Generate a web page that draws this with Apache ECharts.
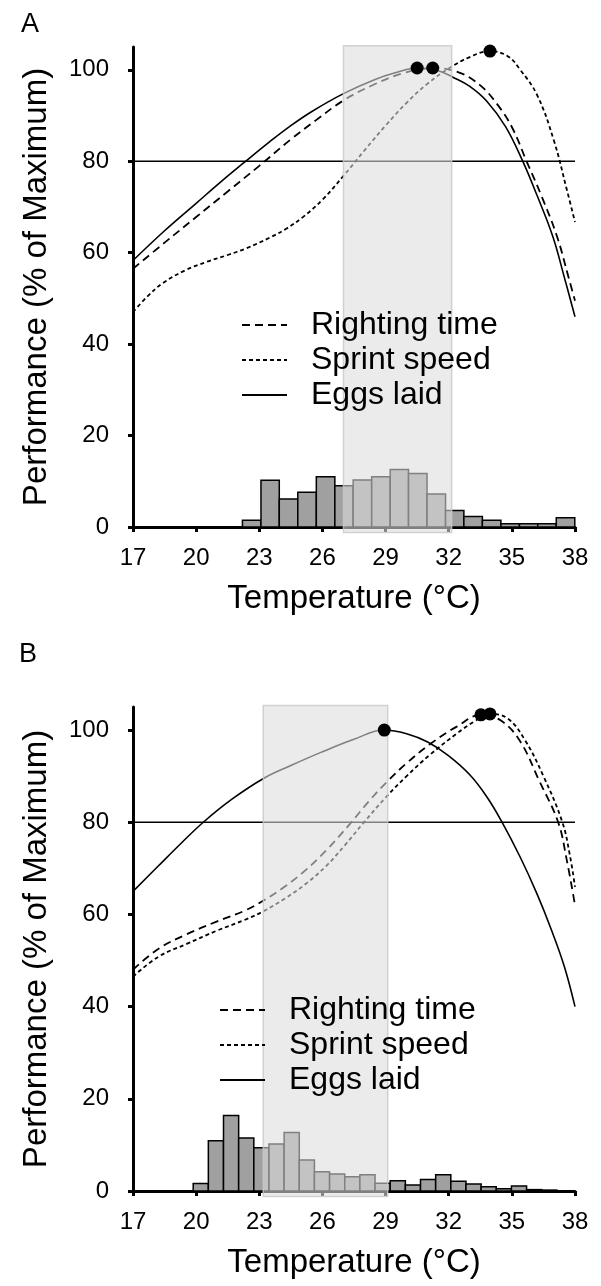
<!DOCTYPE html>
<html>
<head>
<meta charset="utf-8">
<script src="https://cdn.jsdelivr.net/npm/echarts@6/dist/echarts.min.js"></script>
<style>
  html, body { margin: 0; padding: 0; background: #fff; }
  #main { width: 601px; height: 1286px; }
</style>
</head>
<body>
<div id="main"></div>
<script>
// tick labels
const xTicks = [17, 20, 23, 26, 29, 32, 35, 38];
const yTicks = [0, 20, 40, 60, 80, 100];
const seriesNames = ['Righting time', 'Sprint speed', 'Eggs laid'];

// ---- panel A ----
const rightingA = [[17,56.5],[18.5,62.2],[20,67.8],[21.5,73.4],[23,79],[24.5,84.8],[25.7,89],[27,93.3],[28.5,96.9],[29.8,99.2],[31.24,100.4],[32.5,99.4],[33.5,96.6],[34.3,92.5],[35,87.5],[35.7,80],[36.4,72.5],[37.15,63.5],[37.7,54.5],[38,49.5]];
const sprintA = [[17,47],[17.7,50.5],[18.4,53.3],[19.5,56.2],[20.5,58],[21.5,59.5],[22.4,61],[23.5,63.3],[24.3,65.3],[25.1,67.9],[26,71.6],[27,76.8],[28,82.4],[29,87.8],[30,92.8],[31,97],[32,100.3],[33,102.8],[33.96,104.1],[34.8,103],[35.4,100],[36.2,94.5],[37,84.5],[37.6,74],[38,66.7]];
const eggsA = [[17,58.3],[18.5,64.8],[20,70.8],[21.2,75.6],[22.3,79.8],[23.5,84.3],[24.5,87.8],[25.5,90.9],[27,94.8],[28.5,97.9],[29.5,99.4],[30.5,100.4],[31.5,99.8],[32.2,98.4],[33,96.4],[33.8,93.2],[34.7,87.6],[35.5,80.2],[36.2,72.5],[36.95,63.5],[37.5,54.5],[38,46]];
const peaksA = [[30.5,100.4],[31.24,100.4],[33.96,104.1]];
const binEdgesA = [22.20,23.08,23.95,24.83,25.71,26.59,27.46,28.34,29.22,30.09,30.97,31.85,32.72,33.60,34.48,35.36,36.23,37.11,37.99];
const binHeightsA = [1.5,10.2,6.1,7.6,11.0,9.0,10.3,11.0,12.6,11.7,7.2,3.6,2.3,1.5,0.7,0.7,0.7,2.0];
const shadeA = [27.0, 32.14];

// ---- panel B ----
const rightingB = [[17,48],[18.2,52.5],[19.55,55.7],[21,58.5],[22.3,60.8],[23.2,63],[24.2,66],[25.2,69.6],[26.2,74],[27.3,79.6],[28.2,84.5],[29.05,88.7],[30,92.8],[31.1,96.9],[32.4,100.8],[33.53,103.3],[34.5,102],[35.4,97.5],[36.3,89],[37.2,80],[37.6,72],[38,62]];
const sprintB = [[17,46.5],[18.2,50.8],[19.55,53.6],[21,56.5],[22.3,58.8],[23.2,60.7],[24.2,63.4],[25.2,66.6],[26.2,70.6],[27.1,75.2],[27.94,79.8],[29.05,85.6],[30,90],[31.1,94.6],[32.4,99.3],[33.2,101.8],[33.96,103.5],[34.8,102.5],[35.6,98],[36.5,90],[37.4,80],[37.75,73],[38,66]];
const eggsB = [[17,65],[18.2,70.5],[19.3,75.5],[20.34,80],[21.7,85],[23.2,89.5],[24.5,92.3],[25.9,95.1],[27.5,98],[28.94,100],[30,99.2],[31,97.4],[32,94.4],[33,90.3],[33.8,85.6],[34.5,80.3],[35.4,72.4],[36.2,64.4],[36.9,56.4],[37.5,48.6],[38,40]];
const peaksB = [[28.94,100],[33.53,103.3],[33.96,103.5]];
const binEdgesB = [19.86,20.58,21.30,22.02,22.74,23.46,24.18,24.90,25.62,26.34,27.06,27.78,28.50,29.22,29.94,30.66,31.38,32.10,32.82,33.54,34.26,34.98,35.70,36.42,37.14];
const binHeightsB = [1.6,10.9,16.4,11.5,9.4,10.2,12.7,6.7,4.2,3.7,3.1,3.5,1.7,2.2,1.3,2.5,3.5,2.1,1.5,0.9,0.5,1.1,0.3,0.2];
const shadeB = [23.19, 29.1];

const refLine = 80;
const yTop = 105;

var myChart = echarts.init(document.getElementById('main'));

function histItem(params, api) {
  var p0 = api.coord([api.value(0), api.value(2)]);
  var p1 = api.coord([api.value(1), 0]);
  return {
    type: 'rect',
    shape: { x: p0[0], y: p0[1], width: p1[0] - p0[0], height: p1[1] - p0[1] },
    style: { fill: '#a0a0a0', stroke: '#000', lineWidth: 1.5 }
  };
}

function shadeItem(params, api) {
  var p0 = api.coord([api.value(0), api.value(2)]);
  var p1 = api.coord([api.value(1), -1.2]);
  return {
    type: 'rect',
    shape: { x: p0[0], y: p0[1], width: p1[0] - p0[0], height: p1[1] - p0[1] },
    style: { fill: 'rgba(220,220,220,0.58)', stroke: 'rgba(200,200,200,0.8)', lineWidth: 1.5 }
  };
}

function xAxisFor(gi) {
  return {
    type: 'value', gridIndex: gi, min: 17, max: 38, interval: 3,
    name: 'Temperature (°C)', nameLocation: 'middle', nameGap: 55,
    nameTextStyle: { fontSize: 33, color: '#000' },
    axisLine: { show: true, onZero: false, lineStyle: { color: '#000', width: 3 } },
    axisTick: { show: true, length: 5, lineStyle: { color: '#000', width: 3 }, customValues: xTicks },
    axisLabel: { fontSize: 24, color: '#000', margin: 19, customValues: xTicks },
    splitLine: { show: false }
  };
}

function yAxisFor(gi) {
  return {
    type: 'value', gridIndex: gi, min: 0, max: yTop,
    name: 'Performance (% of Maximum)', nameLocation: 'middle', nameGap: 80,
    nameTextStyle: { fontSize: 33, color: '#000' },
    axisLine: { show: true, lineStyle: { color: '#000', width: 3 } },
    axisTick: { show: true, length: 5, lineStyle: { color: '#000', width: 3 }, customValues: yTicks },
    axisLabel: { fontSize: 24, color: '#000', margin: 24, customValues: yTicks },
    splitLine: { show: false }
  };
}

function bins(edges, heights) {
  var out = [];
  for (var i = 0; i < heights.length; i++) {
    out.push([edges[i], edges[i + 1], heights[i]]);
  }
  return out;
}

function panelSeries(gi, righting, sprint, eggs, peaks, edges, heights, shade) {
  return [
    {
      name: 'hist' + gi, type: 'custom', xAxisIndex: gi, yAxisIndex: gi,
      renderItem: histItem, encode: { x: [0, 1], y: 2 },
      data: bins(edges, heights), z: 2, silent: true
    },
    {
      name: 'ref' + gi, type: 'line', xAxisIndex: gi, yAxisIndex: gi,
      data: [[17, refLine], [38, refLine]], symbol: 'none',
      lineStyle: { color: '#000', width: 1.5 }, z: 3, silent: true
    },
    {
      name: seriesNames[0], type: 'line', xAxisIndex: gi, yAxisIndex: gi,
      data: righting, smooth: 0.4, symbol: 'none', itemStyle: { color: '#000' },
      lineStyle: { color: '#000', width: 1.8, type: [8, 5] }, z: 4
    },
    {
      name: seriesNames[1], type: 'line', xAxisIndex: gi, yAxisIndex: gi,
      data: sprint, smooth: 0.4, symbol: 'none', itemStyle: { color: '#000' },
      lineStyle: { color: '#000', width: 1.8, type: [4, 3] }, z: 4
    },
    {
      name: seriesNames[2], type: 'line', xAxisIndex: gi, yAxisIndex: gi,
      data: eggs, smooth: 0.4, symbol: 'none', itemStyle: { color: '#000' },
      lineStyle: { color: '#000', width: 1.6 }, z: 4
    },
    {
      name: 'shade' + gi, type: 'custom', xAxisIndex: gi, yAxisIndex: gi,
      renderItem: shadeItem, encode: { x: [0, 1], y: 2 }, clip: false,
      data: [[shade[0], shade[1], yTop + 0.3]], z: 10, silent: true
    },
    {
      name: 'peaks' + gi, type: 'scatter', xAxisIndex: gi, yAxisIndex: gi,
      data: peaks, symbolSize: 13, itemStyle: { color: '#000', opacity: 1 }, z: 20, silent: true
    }
  ];
}

function legendFor(left, top) {
  return {
    data: seriesNames, orient: 'vertical', left: left, top: top, z: 30,
    itemWidth: 45, itemHeight: 14, itemGap: 3, selectedMode: false,
    itemStyle: { opacity: 0 },
    textStyle: { fontSize: 32, color: '#000', padding: [0, 0, 0, 19] }
  };
}

myChart.setOption({
  animation: false,
  textStyle: { fontFamily: 'Liberation Sans, Arial, sans-serif' },
  title: [
    { text: 'A', left: 16, top: 6, textStyle: { fontSize: 27, fontWeight: 'normal', color: '#000' } },
    { text: 'B', left: 14, top: 636, textStyle: { fontSize: 27, fontWeight: 'normal', color: '#000' } }
  ],
  legend: [legendFor(236, 304), legendFor(214, 989)],
  grid: [
    { left: 133, top: 47, width: 442, height: 480, outerBoundsMode: 'none' },
    { left: 133, top: 707, width: 442, height: 484, outerBoundsMode: 'none' }
  ],
  xAxis: [xAxisFor(0), xAxisFor(1)],
  yAxis: [yAxisFor(0), yAxisFor(1)],
  series: panelSeries(0, rightingA, sprintA, eggsA, peaksA, binEdgesA, binHeightsA, shadeA)
    .concat(panelSeries(1, rightingB, sprintB, eggsB, peaksB, binEdgesB, binHeightsB, shadeB))
});
</script>
</body>
</html>
